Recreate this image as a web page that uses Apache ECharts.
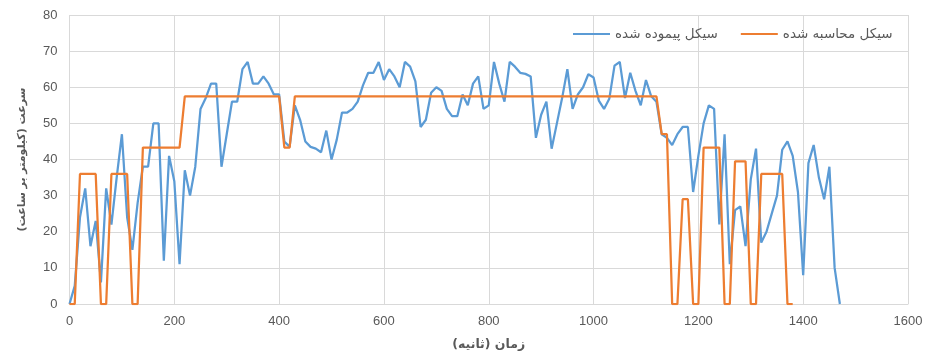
<!DOCTYPE html>
<html>
<head>
<meta charset="utf-8">
<script src="https://cdn.jsdelivr.net/npm/echarts@6/dist/echarts.min.js"></script>
<style>
  html, body { margin: 0; padding: 0; background: #ffffff; }
  #chart { width: 927px; height: 356px; }
</style>
</head>
<body>
<div id="chart"></div>
<script>
// Measured drive cycle: speed sampled every 10 s from t = 0
const sampleStep = 10;
const drivenSpeed = [
  0, 5, 24, 32, 16, 23, 6, 32, 22, 35,
  47, 24, 15, 28, 38, 38, 50, 50, 12, 41,
  34, 11, 37, 30, 38, 54, 57, 61, 61, 38,
  47, 56, 56, 65, 67, 61, 61, 63, 61, 58,
  58, 45, 43.5, 55, 51, 45, 43.5, 43, 42, 48,
  40, 45.5, 53, 53, 54, 56, 60.5, 64, 64, 67,
  62, 65, 63, 60, 67, 65.7, 61.6, 49, 51, 58.5,
  60, 59, 54, 52, 52, 58, 55, 61, 63, 54,
  55, 67, 61, 56, 67, 65.7, 64, 63.7, 63, 46,
  52.4, 56, 43, 50, 57, 65, 54, 58, 60, 63.6,
  62.7, 56.3, 54, 56.8, 66, 67, 57, 64, 59, 55,
  62, 57.5, 56, 47, 46, 44, 47, 49, 49, 31,
  41, 50, 55, 54, 22, 47, 11, 26, 27, 16,
  34.5, 43, 17, 20, 25, 30, 42.7, 45, 41, 31,
  8, 39, 44, 35, 29, 38, 10, 0
];

// Computed (modal) cycle: corner points of the piecewise profile
const computedTime = [
  0, 10, 20, 50, 60, 70, 80, 110, 120, 130,
  140, 210, 220, 400, 410, 420, 430, 1120, 1130, 1140,
  1150, 1160, 1170, 1180, 1190, 1200, 1210, 1240, 1250, 1260,
  1270, 1290, 1300, 1310, 1320, 1360, 1370, 1380
];
const computedSpeed = [
  0, 0, 36, 36, 0, 0, 36, 36, 0, 0,
  43.3, 43.3, 57.5, 57.5, 43.3, 43.3, 57.5, 57.5, 47, 47,
  0, 0, 29, 29, 0, 0, 43.3, 43.3, 0, 0,
  39.5, 39.5, 0, 0, 36, 36, 0, 0
];

const xTicks = { min: 0, max: 1600, interval: 200 };
const yTicks = { min: 0, max: 80, interval: 10 };

const RLM = '\u200F';
const rtl = s => RLM + s + RLM;
const seriesNames = [rtl('سیکل پیموده شده'), rtl('سیکل محاسبه شده')];
const xTitle = rtl('زمان (ثانیه)');
const yTitle = rtl('سرعت (کیلومتر بر ساعت)');

const drivenData = drivenSpeed.map((v, i) => [i * sampleStep, v]);
const computedData = computedTime.map((t, i) => [t, computedSpeed[i]]);

const persianFont = 'DejaVu Sans';
const numberFont = 'Liberation Sans';
const gridColor = '#d9d9d9';
const textColor = '#595959';

const chart = echarts.init(document.getElementById('chart'), null, { renderer: 'canvas' });
chart.setOption({
  animation: false,
  backgroundColor: '#ffffff',
  grid: { left: 69.5, right: 19, top: 15, bottom: 51 },
  legend: {
    left: 568,
    top: 22,
    icon: 'rect',
    itemWidth: 37,
    itemHeight: 2.2,
    itemGap: 23,
    textStyle: { fontFamily: persianFont, fontSize: 13.5, color: textColor },
    data: seriesNames
  },
  xAxis: {
    type: 'value',
    min: xTicks.min,
    max: xTicks.max,
    interval: xTicks.interval,
    name: xTitle,
    nameLocation: 'middle',
    nameGap: 34,
    nameTextStyle: { fontFamily: persianFont, fontSize: 12.5, fontWeight: 'bold', color: textColor },
    axisLine: { show: true, lineStyle: { color: gridColor, width: 1 } },
    axisTick: { show: false },
    axisLabel: { fontFamily: numberFont, fontSize: 13, color: textColor, margin: 11, formatter: v => String(v) },
    splitLine: { show: true, lineStyle: { color: gridColor, width: 1 } }
  },
  yAxis: {
    type: 'value',
    min: yTicks.min,
    max: yTicks.max,
    interval: yTicks.interval,
    name: yTitle,
    nameLocation: 'middle',
    nameRotate: 90,
    nameGap: 42,
    nameTextStyle: { fontFamily: persianFont, fontSize: 11, fontWeight: 'bold', color: textColor },
    axisLine: { show: false },
    axisTick: { show: false },
    axisLabel: { fontFamily: numberFont, fontSize: 13, color: textColor, margin: 12, formatter: v => String(v) },
    splitLine: { show: true, lineStyle: { color: gridColor, width: 1 } }
  },
  series: [
    {
      name: seriesNames[0],
      type: 'line',
      data: drivenData,
      symbol: 'none',
      lineStyle: { color: '#5b9bd5', width: 2.25 },
      itemStyle: { color: '#5b9bd5' },
      z: 2
    },
    {
      name: seriesNames[1],
      type: 'line',
      data: computedData,
      symbol: 'none',
      lineStyle: { color: '#ed7d31', width: 2.25 },
      itemStyle: { color: '#ed7d31' },
      z: 3
    }
  ]
});
</script>
</body>
</html>
